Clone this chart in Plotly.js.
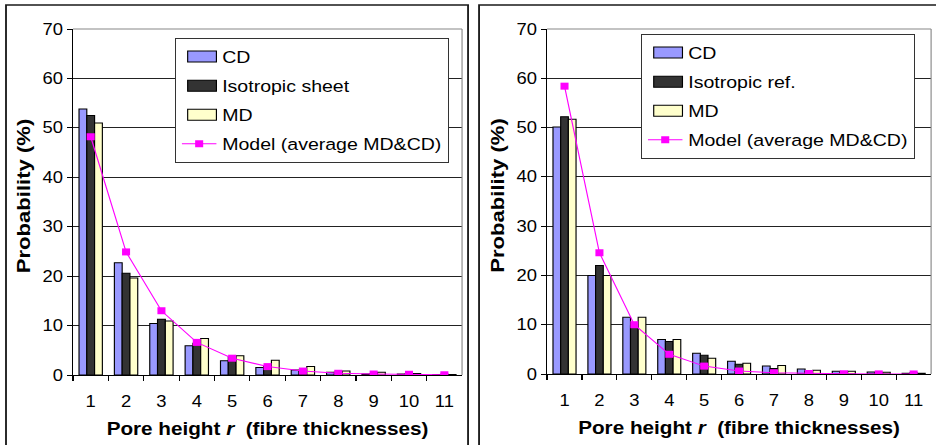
<!DOCTYPE html>
<html>
<head>
<meta charset="utf-8">
<script src="https://cdn.plot.ly/plotly-3.0.1.min.js"></script>
<style>
  html, body { margin: 0; padding: 0; background: #fff; overflow: hidden; }
  /* the chart is laid out narrower and widened, as the pasted sheet chart was */
  #wrap { width: 814px; height: 445px; transform: scaleX(1.15); transform-origin: 0 0; }
</style>
</head>
<body>
<div id="wrap"><div id="chart"></div></div>
<script>
// Pore height classes (fibre thicknesses)
const categories = ['1', '2', '3', '4', '5', '6', '7', '8', '9', '10', '11'];

// Left panel: measured distributions vs isotropic sheet (%)
const leftCD    = [53.8, 22.7, 10.4, 5.9, 2.9, 1.5, 1.0, 0.55, 0.2, 0.2, 0.1];
const leftIso   = [52.5, 20.6, 11.3, 6.4, 3.7, 1.9, 0.8, 0.55, 0.2, 0.2, 0.15];
const leftMD    = [51.0, 19.6, 10.9, 7.4, 3.9, 3.0, 1.7, 0.8, 0.55, 0.3, 0.1];
const leftModel = [48.2, 24.9, 13.0, 6.6, 3.4, 1.7, 0.8, 0.35, 0.2, 0.15, 0.05];

// Right panel: measured distributions vs isotropic reference (%)
const rightCD    = [50.1, 20.0, 11.5, 7.0, 4.2, 2.6, 1.6, 1.0, 0.55, 0.4, 0.15];
const rightIso   = [52.2, 22.0, 9.8, 6.6, 3.8, 2.0, 1.1, 0.5, 0.3, 0.3, 0.2];
const rightMD    = [51.7, 20.0, 11.5, 7.0, 3.2, 2.2, 1.7, 0.75, 0.55, 0.35, 0.15];
const rightModel = [58.4, 24.6, 10.0, 4.0, 1.6, 0.6, 0.25, 0.1, 0.05, 0.02, 0.01];

const legendLeft  = ['CD', 'Isotropic sheet', 'MD', 'Model (average MD&amp;CD)'];
const legendRight = ['CD', 'Isotropic ref.', 'MD', 'Model (average MD&amp;CD)'];

const FONT = 'Liberation Sans, Arial, sans-serif';
const W = 936, H = 445;
const px = v => v / W;          // horizontal position as paper fraction
const py = v => 1 - v / H;      // vertical position as paper fraction

function panel(xa, ya, lg, names, cd, iso, md, model) {
  const bar = (name, y, fill, g) => ({
    type: 'bar', name, x: categories, y, xaxis: xa, yaxis: ya, legend: lg,
    legendgroup: lg + g,
    marker: { color: fill, line: { color: '#000', width: 1 } },
    hoverinfo: 'skip'
  });
  return [
    bar(names[0], cd, '#9999FF', 'a'),
    bar(names[1], iso, '#333333', 'b'),
    bar(names[2], md, '#FFFFCC', 'c'),
    {
      type: 'scatter', mode: 'lines+markers', name: names[3],
      x: categories, y: model, xaxis: xa, yaxis: ya, legend: lg, legendgroup: lg + 'd',
      line: { color: '#FF00FF', width: 1 },
      marker: { symbol: 'square', size: 7, color: '#FF00FF' },
      hoverinfo: 'skip'
    }
  ];
}

const data = [].concat(
  panel('x', 'y', 'legend', legendLeft, leftCD, leftIso, leftMD, leftModel),
  panel('x2', 'y2', 'legend2', legendRight, rightCD, rightIso, rightMD, rightModel)
);

const xTitle = 'Pore height <i>r</i>&nbsp; (fibre thicknesses)';
const yTitle = 'Probability (%)';

function xAxis(domain, anchor) {
  return {
    domain, anchor, type: 'category', range: [-0.5, 10.5],
    tickson: 'boundaries', ticks: 'outside', ticklen: 5, tickcolor: '#000', tickwidth: 1,
    ticklabelstandoff: 12,
    showline: true, linecolor: '#000', linewidth: 1, showgrid: false, zeroline: false,
    tickfont: { family: FONT, size: 16, color: '#000' },
    title: { text: xTitle, standoff: 13, font: { family: FONT, size: 18, color: '#000', weight: 'bold' } },
    automargin: false, fixedrange: true
  };
}
function yAxis(domain, anchor) {
  return {
    domain, anchor, range: [0, 70], dtick: 10, tick0: 0,
    ticks: 'outside', ticklen: 4.5, tickcolor: '#000', tickwidth: 1,
    showline: true, linecolor: '#000', linewidth: 1,
    showgrid: true, gridcolor: '#222', gridwidth: 1, zeroline: false,
    tickfont: { family: FONT, size: 16, color: '#000' },
    title: { text: yTitle, standoff: 6, font: { family: FONT, size: 16, color: '#000', weight: 'bold' } },
    automargin: false, fixedrange: true
  };
}

const legendBase = {
  bgcolor: '#fff', bordercolor: '#333', borderwidth: 1,
  font: { family: FONT, size: 17, color: '#000' },
  xanchor: 'left', yanchor: 'top', traceorder: 'grouped', tracegroupgap: 4
};

const frame = (x0, x1) => ({
  type: 'rect', xref: 'paper', yref: 'paper', x0, x1, y0: -0.05, y1: py(5),
  line: { color: '#1a1a1a', width: 1.6 }, fillcolor: 'rgba(0,0,0,0)', layer: 'above'
});
const border = (x0, y0, x1, y1) => ({
  type: 'line', xref: 'paper', yref: 'paper', x0, y0, x1, y1,
  line: { color: '#888', width: 1 }, layer: 'above'
});

const layout = {
  width: 814, height: H,
  margin: { l: 0, r: 0, t: 0, b: 0 },
  paper_bgcolor: '#fff', plot_bgcolor: '#fff',
  font: { family: FONT, color: '#000' },
  barmode: 'group', bargap: 0.34, bargroupgap: 0,
  showlegend: true,
  xaxis: xAxis([px(73), px(462)], 'y'),
  yaxis: yAxis([py(375), py(29)], 'x'),
  xaxis2: xAxis([px(547), px(931)], 'y2'),
  yaxis2: yAxis([py(374), py(29)], 'x2'),
  legend: Object.assign({}, legendBase, { x: px(175), y: py(38) }),
  legend2: Object.assign({}, legendBase, { x: px(641), y: py(34) }),
  shapes: [
    frame(px(6), px(468)),
    frame(px(479), 1.05),
    border(px(73), py(29), px(462), py(29)),
    border(px(462), py(29), px(462), py(375)),
    border(px(547), py(29), px(931), py(29)),
    border(px(931), py(29), px(931), py(374))
  ]
};

// Finishing touches on the drawn SVG: wide swatches for the bar legend
// entries, and the vertical axis titles drawn long and narrow.
function finish(gd) {
  gd.querySelectorAll('g.legendpoints path').forEach(p => {
    if (p.classList.contains('scatterpts')) return;
    p.setAttribute('d', 'M15,5.5H-10V-5.5H15Z');
  });
  gd.querySelectorAll('text.ytitle, text.y2title').forEach(t => {
    const x = parseFloat(t.getAttribute('x'));
    const y = parseFloat(t.getAttribute('y'));
    t.setAttribute('transform',
      `rotate(-90,${x},${y}) translate(${x + 6},${y}) scale(1.38,1) translate(${-x},${-y})`);
  });
}

const gd = document.getElementById('chart');
Plotly.newPlot(gd, data, layout, { staticPlot: true, displayModeBar: false })
  .then(() => {
    finish(gd);
    gd.on('plotly_afterplot', () => finish(gd));
    requestAnimationFrame(() => finish(gd));
    setTimeout(() => finish(gd), 50);
  });
</script>
</body>
</html>
